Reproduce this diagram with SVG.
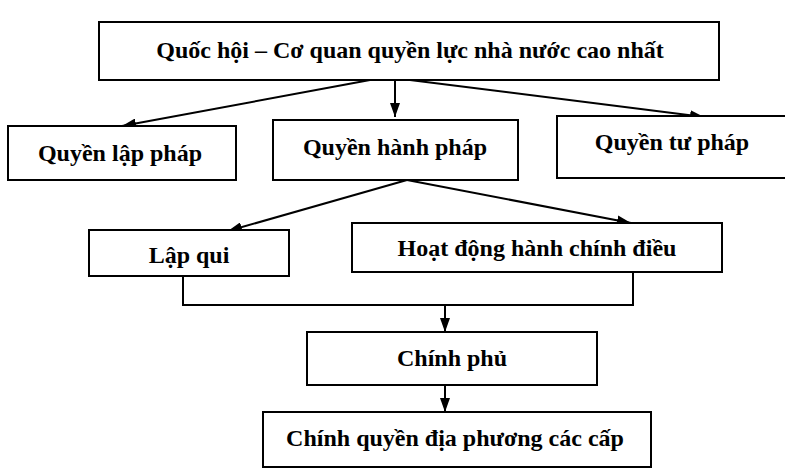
<svg xmlns="http://www.w3.org/2000/svg" width="785" height="470" viewBox="0 0 785 470">
<style>
.box{fill:#fff;stroke:#000;stroke-width:2}
.t{font-family:"Liberation Serif","Times New Roman",serif;font-weight:bold;font-size:24px;fill:#000;text-anchor:middle}
.c{fill:none;stroke:#000;stroke-width:2}
</style>
<defs>
<marker id="ah" viewBox="0 0 14 10" refX="14" refY="5" markerWidth="14" markerHeight="10" orient="auto" markerUnits="userSpaceOnUse">
<path d="M0,0 L14,5 L0,10 z" fill="#000"/>
</marker>
</defs>
<rect width="785" height="470" fill="#fff"/>
<g id="connectors">
<path class="c" d="M395,80 L395,117" marker-end="url(#ah)"/>
<path class="c" d="M370,80 L122,126" marker-end="url(#ah)"/>
<path class="c" d="M410,80 L704,117" marker-end="url(#ah)"/>
<path class="c" d="M407,180 L228,231" marker-end="url(#ah)"/>
<path class="c" d="M407,180 L631,223" marker-end="url(#ah)"/>
<path class="c" d="M183,276 L183,305 L633,305 L633,272"/>
<path class="c" d="M445,305 L445,332" marker-end="url(#ah)"/>
<path class="c" d="M445,385 L445,412" marker-end="url(#ah)"/>
</g>
<g id="quoc-hoi">
<rect class="box" x="99" y="22" width="620" height="58"/>
<text class="t" x="410" y="58">Quốc hội – Cơ quan quyền lực nhà nước cao nhất</text>
</g>
<g id="lap-phap">
<rect class="box" x="8" y="126" width="228" height="54"/>
<text class="t" x="120" y="161">Quyền lập pháp</text>
</g>
<g id="hanh-phap">
<rect class="box" x="273" y="120" width="245" height="60"/>
<text class="t" x="395" y="155">Quyền hành pháp</text>
</g>
<g id="tu-phap">
<rect class="box" x="557" y="116" width="230" height="62"/>
<text class="t" x="672" y="150">Quyền tư pháp</text>
</g>
<g id="lap-qui">
<rect class="box" x="89" y="230" width="200" height="46"/>
<text class="t" x="189" y="263">Lập qui</text>
</g>
<g id="hoat-dong">
<rect class="box" x="352" y="223" width="370" height="49"/>
<text class="t" x="537" y="256">Hoạt động hành chính điều</text>
</g>
<g id="chinh-phu">
<rect class="box" x="307" y="332" width="290" height="53"/>
<text class="t" x="452" y="366">Chính phủ</text>
</g>
<g id="chinh-quyen">
<rect class="box" x="263" y="412" width="388" height="55"/>
<text class="t" x="455" y="446">Chính quyền địa phương các cấp</text>
</g>
</svg>
